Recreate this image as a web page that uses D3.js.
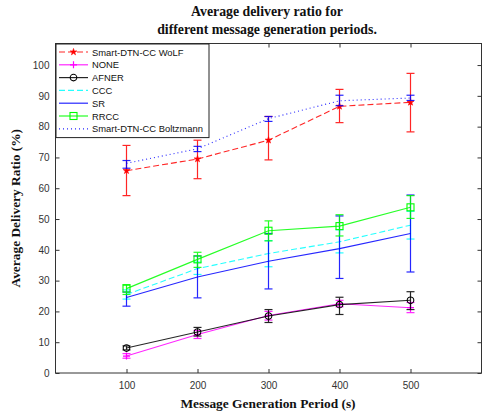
<!DOCTYPE html>
<html>
<head>
<meta charset="utf-8">
<script src="https://cdn.jsdelivr.net/npm/d3@7"></script>
<style>
  body { margin: 0; background: #fff; }
  svg { display: block; }
</style>
</head>
<body>
<svg id="chart" width="482" height="416"></svg>
<script>
// periods on the x axis
const periods = [100, 200, 300, 400, 500];
const xTicks = [100, 200, 300, 400, 500];
const yTicks = [0, 10, 20, 30, 40, 50, 60, 70, 80, 90, 100];

// series means + error bar bounds
const wolf = [65.7, 69.5, 75.6, 86.6, 87.9];
const wolfLo = [57.6, 63.1, 69.2, 81.3, 78.3];
const wolfHi = [73.9, 75.6, 83.3, 92.1, 97.3];

const none = [5.5, 12.5, 18.7, 22.5, 21.2];
const noneLo = [4.8, 11.2, 17.2, 21.5, 19.6];
const noneHi = [6.3, 13.8, 20.0, 23.6, 22.9];

const afner = [8.1, 13.3, 18.5, 22.2, 23.6];
const afnerLo = [7.5, 12.0, 16.4, 19.0, 20.6];
const afnerHi = [8.8, 14.8, 20.6, 24.6, 26.4];

const ccc = [25.5, 33.9, 38.8, 42.6, 48.0];
const cccLo = [24.0, 32.0, 34.5, 39.0, 43.5];
const cccHi = [27.0, 36.0, 43.0, 46.5, 52.5];

const sr = [24.5, 31.2, 36.3, 40.4, 45.3];
const srLo = [21.7, 24.4, 27.3, 30.7, 32.8];
const srHi = [26.3, 38.0, 45.3, 51.0, 57.8];

const rrcc = [27.4, 36.9, 46.2, 47.7, 53.8];
const rrccLo = [25.5, 34.3, 42.9, 44.5, 50.2];
const rrccHi = [28.7, 39.2, 49.4, 51.4, 57.6];

const boltz = [68.1, 72.8, 82.6, 88.4, 89.3];
const boltzLo = [66.5, 71.9, 81.7, 86.8, 88.5];
const boltzHi = [69.0, 73.6, 83.3, 90.2, 90.2];

const seriesNames = ["Smart-DTN-CC WoLF", "NONE", "AFNER", "CCC", "SR", "RRCC", "Smart-DTN-CC Boltzmann"];

// styling per series (line colour, dash, marker)
const series = [
  { name: seriesNames[0], y: wolf, lo: wolfLo, hi: wolfHi, color: "#ff0000", dash: "6,3", marker: "star" },
  { name: seriesNames[1], y: none, lo: noneLo, hi: noneHi, color: "#ff00ff", dash: null, marker: "plus" },
  { name: seriesNames[2], y: afner, lo: afnerLo, hi: afnerHi, color: "#000000", dash: null, marker: "circle" },
  { name: seriesNames[3], y: ccc, lo: cccLo, hi: cccHi, color: "#00ffff", dash: "6,3", marker: null },
  { name: seriesNames[4], y: sr, lo: srLo, hi: srHi, color: "#0000ff", dash: null, marker: null },
  { name: seriesNames[5], y: rrcc, lo: rrccLo, hi: rrccHi, color: "#00ff00", dash: null, marker: "square" },
  { name: seriesNames[6], y: boltz, lo: boltzLo, hi: boltzHi, color: "#0000ff", dash: "1,3", marker: null }
];

const svg = d3.select("#chart");
const W = 482, H = 416;
const plot = { left: 55.5, right: 481.5, top: 43.5, bottom: 373 };

const x = d3.scaleLinear().domain([0, 600]).range([plot.left, plot.right]);
const y = d3.scaleLinear().domain([0, 107]).range([plot.bottom, plot.top]);

svg.append("rect").attr("width", W).attr("height", H).attr("fill", "#fff");

const serif = "'Liberation Serif', 'Times New Roman', serif";

// title
const title = svg.append("text")
  .attr("x", 267).attr("text-anchor", "middle")
  .style("font-family", serif)
  .style("font-weight", "bold").style("font-size", "13.8px").attr("fill", "#111");
title.append("tspan").attr("x", 267).attr("y", 16).text("Average delivery ratio for");
title.append("tspan").attr("x", 267).attr("y", 34).text("different message generation periods.");

// axes
const axisColor = "#333";
const tickFont = "'Liberation Sans', Arial, sans-serif";

const gx = svg.append("g").attr("transform", `translate(0,${plot.bottom})`)
  .call(d3.axisBottom(x).tickValues(xTicks).tickSize(-4).tickPadding(9).tickSizeOuter(0));
const gxTop = svg.append("g").attr("transform", `translate(0,${plot.top})`)
  .call(d3.axisTop(x).tickValues(xTicks).tickSize(-4).tickFormat("").tickSizeOuter(0));
const gy = svg.append("g").attr("transform", `translate(${plot.left},0)`)
  .call(d3.axisLeft(y).tickValues(yTicks).tickSize(-4).tickPadding(6).tickSizeOuter(0));
const gyRight = svg.append("g").attr("transform", `translate(${plot.right},0)`)
  .call(d3.axisRight(y).tickValues(yTicks).tickSize(-4).tickFormat("").tickSizeOuter(0));

[gx, gxTop, gy, gyRight].forEach(g => {
  g.select(".domain").remove();
  g.selectAll("line").attr("stroke", axisColor);
  g.selectAll("text").attr("fill", "#333")
    .style("font-family", tickFont).style("font-size", "10px");
});

svg.append("rect")
  .attr("x", plot.left).attr("y", plot.top)
  .attr("width", plot.right - plot.left).attr("height", plot.bottom - plot.top)
  .attr("fill", "none").attr("stroke", axisColor).attr("stroke-width", 1);

// axis labels
svg.append("text")
  .attr("x", 268).attr("y", 408).attr("text-anchor", "middle")
  .style("font-family", serif)
  .style("font-weight", "bold").style("font-size", "13.4px").attr("fill", "#111")
  .text("Message Generation Period (s)");

svg.append("text")
  .attr("transform", `translate(20,${(plot.top + plot.bottom) / 2}) rotate(-90)`)
  .attr("text-anchor", "middle")
  .style("font-family", serif)
  .style("font-weight", "bold").style("font-size", "13.4px").attr("fill", "#111")
  .text("Average Delivery Ratio (%)");

// markers
const plusPath = "M-3.5,0H3.5M0,-3.5V3.5";
function drawMarker(g, type, color) {
  if (type === "star") {
    g.append("path").attr("d", d3.symbol(d3.symbolStar, 14)()).attr("fill", color).attr("stroke", color).attr("stroke-width", 0.6);
  } else if (type === "plus") {
    g.append("path").attr("d", plusPath).attr("stroke", color).attr("stroke-width", 1.2).attr("fill", "none");
  } else if (type === "circle") {
    g.append("circle").attr("r", 3.3).attr("fill", "none").attr("stroke", color).attr("stroke-width", 1.1);
  } else if (type === "square") {
    g.append("rect").attr("x", -3.5).attr("y", -3.5).attr("width", 7).attr("height", 7)
      .attr("fill", "none").attr("stroke", color).attr("stroke-width", 1.1);
  }
}

const line = d3.line().x(d => x(d.p)).y(d => y(d.v));
const capW = 4;

series.forEach(s => {
  const pts = periods.map((p, i) => ({ p, v: s.y[i], lo: s.lo[i], hi: s.hi[i] }));
  const g = svg.append("g");

  // error bars
  const eb = g.selectAll(".eb").data(pts).join("g").attr("class", "eb")
    .attr("stroke", s.color).attr("stroke-width", 1.2).attr("opacity", 0.85);
  eb.append("line").attr("x1", d => x(d.p)).attr("x2", d => x(d.p))
    .attr("y1", d => y(d.lo)).attr("y2", d => y(d.hi));
  eb.append("line").attr("x1", d => x(d.p) - capW).attr("x2", d => x(d.p) + capW)
    .attr("y1", d => y(d.lo)).attr("y2", d => y(d.lo));
  eb.append("line").attr("x1", d => x(d.p) - capW).attr("x2", d => x(d.p) + capW)
    .attr("y1", d => y(d.hi)).attr("y2", d => y(d.hi));

  g.append("path").datum(pts).attr("d", line)
    .attr("fill", "none").attr("stroke", s.color).attr("stroke-width", 1.1)
    .attr("stroke-dasharray", s.dash).attr("opacity", 0.85);

  if (s.marker) {
    g.selectAll(".mk").data(pts).join("g").attr("class", "mk")
      .attr("transform", d => `translate(${x(d.p)},${y(d.v)})`)
      .each(function () { drawMarker(d3.select(this), s.marker, s.color); });
  }
});

// legend
const legend = { x: 56, y: 44, w: 153, rowH: 12.8 };
const lg = svg.append("g");
lg.append("rect")
  .attr("x", legend.x).attr("y", legend.y)
  .attr("width", legend.w).attr("height", legend.rowH * series.length + 4)
  .attr("fill", "#fff").attr("stroke", "#222").attr("stroke-width", 1);

const rows = lg.selectAll(".row").data(series).join("g").attr("class", "row")
  .attr("transform", (d, i) => `translate(${legend.x},${legend.y + 8 + i * legend.rowH})`);
rows.append("line").attr("x1", 3).attr("x2", 32).attr("y1", 0).attr("y2", 0)
  .attr("stroke", d => d.color).attr("stroke-width", 1.2)
  .attr("stroke-dasharray", d => d.dash).attr("opacity", 0.85);
rows.each(function (d) {
  if (d.marker) {
    const m = d3.select(this).append("g").attr("transform", "translate(17.5,0)");
    drawMarker(m, d.marker, d.color);
  }
});
rows.append("text").attr("x", 36).attr("y", 3.5)
  .style("font-family", tickFont).style("font-size", "9.4px").attr("fill", "#111")
  .text(d => d.name);
</script>
</body>
</html>
